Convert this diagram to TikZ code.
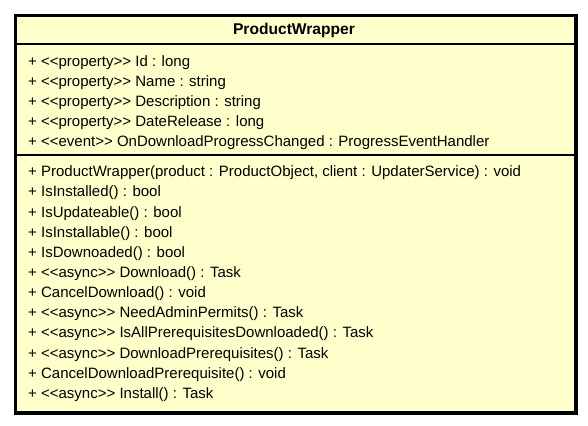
\documentclass[tikz,border=0pt]{standalone}
\usepackage{fontspec}
\setmainfont{Liberation Sans}[Ligatures=TeXOff]
\usetikzlibrary{positioning}
\definecolor{classfill}{HTML}{FFFFCC}

\begin{document}
\begin{tikzpicture}[x=1pt,y=1pt]
\tikzstyle{classframe}=[draw=black, line width=3.5pt, fill=classfill, inner sep=0pt, anchor=north west]
\tikzstyle{member}=[inner sep=0pt, anchor=base west, font=\fontsize{15}{18}\selectfont]
\tikzstyle{sepline}=[draw=black, line width=1.2pt]
    \useasboundingbox (0,0) rectangle (588,-425);
    \node (wrapper) [classframe, minimum width=560.5pt, minimum height=397.5pt] at (13.75,-13.75) {};
    \node (title) [inner sep=0pt, anchor=base, font=\fontsize{15.6}{18}\bfseries] at (294,-34.5) {ProductWrapper};

    \coordinate (sepA) at (0,-44);
    \coordinate (sepB) at (0,-155);
    \draw[sepline] (wrapper.west |- sepA) -- (wrapper.east |- sepA);
    \draw[sepline] (wrapper.west |- sepB) -- (wrapper.east |- sepB);

    % properties
    \node (pId) [member] at (28,-66.7) {+ <<property>> Id : long};
    \node (pName) [member, below=20pt of pId.base west, anchor=base west] {+ <<property>> Name : string};
    \node (pDesc) [member, below=20pt of pName.base west, anchor=base west] {+ <<property>> Description : string};
    \node (pDate) [member, below=20pt of pDesc.base west, anchor=base west] {+ <<property>> DateRelease : long};
    \node (eProgress) [member, below=20pt of pDate.base west, anchor=base west] {+ <<event>> OnDownloadProgressChanged : ProgressEventHandler};

    % operations
    \node (oCtor) [member] at (28,-176.7) {+ ProductWrapper(product : ProductObject, client : UpdaterService) : void};
    \node (oInstalled) [member, below=20.15pt of oCtor.base west, anchor=base west] {+ IsInstalled() : bool};
    \node (oUpdateable) [member, below=20.15pt of oInstalled.base west, anchor=base west] {+ IsUpdateable() : bool};
    \node (oInstallable) [member, below=20.15pt of oUpdateable.base west, anchor=base west] {+ IsInstallable() : bool};
    \node (oDownloaded) [member, below=20.15pt of oInstallable.base west, anchor=base west] {+ IsDownoaded() : bool};
    \node (oDownload) [member, below=20.15pt of oDownloaded.base west, anchor=base west] {+ <<async>> Download() : Task};
    \node (oCancel) [member, below=20.15pt of oDownload.base west, anchor=base west] {+ CancelDownload() : void};
    \node (oAdmin) [member, below=20.15pt of oCancel.base west, anchor=base west] {+ <<async>> NeedAdminPermits() : Task};
    \node (oAllPre) [member, below=20.15pt of oAdmin.base west, anchor=base west] {+ <<async>> IsAllPrerequisitesDownloaded() : Task};
    \node (oDownPre) [member, below=20.15pt of oAllPre.base west, anchor=base west] {+ <<async>> DownloadPrerequisites() : Task};
    \node (oCancelPre) [member, below=20.15pt of oDownPre.base west, anchor=base west] {+ CancelDownloadPrerequisite() : void};
    \node (oInstall) [member, below=20.15pt of oCancelPre.base west, anchor=base west] {+ <<async>> Install() : Task};
\end{tikzpicture}
\end{document}
